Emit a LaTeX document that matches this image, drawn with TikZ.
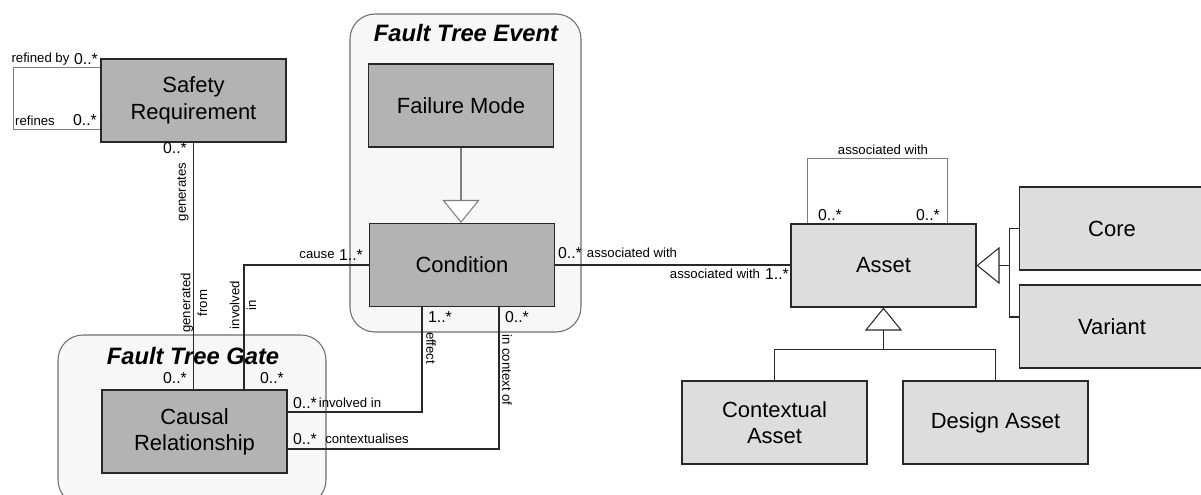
\documentclass[tikz,border=0pt]{standalone}
\usepackage{fontspec}
\setmainfont{Liberation Sans}
\usetikzlibrary{arrows.meta,calc}

\definecolor{boxdark}{RGB}{179,179,179}
\definecolor{boxlight}{RGB}{221,221,221}
\definecolor{grpfill}{RGB}{247,247,247}
\definecolor{grpline}{RGB}{110,110,110}
\definecolor{edgecol}{RGB}{40,40,40}
\definecolor{loopcol}{RGB}{125,125,125}

\tikzset{
	cls/.style={draw=edgecol, fill=boxdark, line width=0.6pt, minimum width=3.7cm, minimum height=1.66cm, inner sep=0pt, align=center, font=\fontsize{12.5}{15}\selectfont},
	lcls/.style={cls, fill=boxlight},
	group/.style={draw=grpline, fill=grpfill, line width=0.6pt, rounded corners=0.5cm},
	grptitle/.style={inner sep=0pt, font=\fontsize{13.5}{16}\selectfont\bfseries\itshape},
	link/.style={draw=edgecol, line width=0.6pt},
	selfloop/.style={draw=loopcol, line width=0.6pt},
	gen/.style={-{Triangle[length=4.6mm, width=7.4mm, fill=white]}},
	mult/.style={inner sep=0pt, font=\fontsize{9}{10}\selectfont},
	role/.style={inner sep=0pt, align=center, font=\fontsize{7.5}{9.5}\selectfont}
}

\begin{document}
\begin{tikzpicture}[x=0.02cm, y=-0.02cm]
	\useasboundingbox (0,0) rectangle (1201,494);
	%%%%% GROUPS %%%%%
	\draw[group] (350,14) rectangle (581,332);
	\draw[group] (58,335) rectangle (326,505);
	\node[grptitle] (fteTitle) at (466,33) {Fault Tree Event};
	\node[grptitle] (ftgTitle) at (193,356) {Fault Tree Gate};
	
	%%%%% CLASSES %%%%%
	\node[cls] (safetyReq) at (193.5,100.5) {Safety\\Requirement};
	\node[cls] (causalRel) at (194.5,431.5) {Causal\\Relationship};
	\node[cls] (failMode) at (461,105.5) {Failure Mode};
	\node[cls] (condition) at (462,265) {Condition};
	\node[lcls] (asset) at (883.5,265.5) {Asset};
	\node[lcls] (core) at (1112,228.5) {Core};
	\node[lcls] (variant) at (1112,326.5) {Variant};
	\node[lcls] (ctxAsset) at (774.5,422.5) {Contextual\\Asset};
	\node[lcls] (designAsset) at (995.5,422.5) {Design Asset};
	
	%%%%% ASSOCIATIONS %%%%%
	\draw[selfloop] ($(safetyReq.north west)+(0,9)$) -- ++(-87,0) |- ($(safetyReq.south west)+(0,-13)$);
	\draw[link] (safetyReq.south) -- (safetyReq.south |- causalRel.north);
	\draw[link] ($(causalRel.north)+(49.5,0)$) |- (condition.west);
	\draw[link] ($(condition.south)+(-40,0)$) |- ($(causalRel.east)+(0,-19.5)$);
	\draw[link] ($(condition.south)+(37,0)$) |- ($(causalRel.east)+(0,17.5)$);
	\draw[link] (condition.east) -- (condition.east -| asset.west);
	\draw[selfloop] ($(asset.north west)+(17,0)$) -- ++(0,-65) -| ($(asset.north east)+(-29,0)$);
	
	%%%%% GENERALISATIONS %%%%%
	\draw[link, draw=loopcol, gen] (failMode.south) -- (failMode.south |- condition.north);
	\coordinate (jRight) at ($(asset.east)+(33,0)$);
	\draw[link] (core.west) -| (jRight);
	\draw[link] ($(variant.west)+(0,-9.5)$) -| (jRight);
	\draw[link, gen] (jRight) -- (asset.east);
	\coordinate (jBelow) at ($(asset.south)+(0,42)$);
	\draw[link] (ctxAsset.north) |- (jBelow);
	\draw[link] (designAsset.north) |- (jBelow);
	\draw[link, gen] (jBelow) -- (asset.south);
	
	%%%%% ROLES AND MULTIPLICITIES %%%%%
	\node[role] (refinedBy) at (40.5,59) {refined by};
	\node[mult] (refinedByM) at (86,59) {0..*};
	\node[role] (refines) at (35,120.5) {refines};
	\node[mult] (refinesM) at (85,120) {0..*};
	\node[mult] (generatesM) at (175,148) {0..*};
	\node[role, rotate=90] (generates) at (183,192) {generates};
	\node[role, rotate=90] (generatedFrom) at (194,303) {generated\\from};
	\node[role, rotate=90] (involvedIn) at (243,305) {involved\\in};
	\node[mult] (generatedFromM) at (175,378) {0..*};
	\node[mult] (involvedInM) at (272,378) {0..*};
	\node[role] (cause) at (317,255) {cause};
	\node[mult] (causeM) at (351,255) {1..*};
	\node[mult] (effectM) at (440,317) {1..*};
	\node[role, rotate=-90] (effect) at (431,348) {effect};
	\node[mult] (contextM) at (517,317) {0..*};
	\node[role, rotate=-90] (inContextOf) at (507,370) {in context of};
	\node[mult] (involvedInM2) at (305,403) {0..*};
	\node[role] (involvedIn2) at (350,403) {involved in};
	\node[mult] (contextualisesM) at (305,439) {0..*};
	\node[role] (contextualises) at (367,439) {contextualises};
	\node[mult] (condAssocM) at (570,253) {0..*};
	\node[role] (condAssoc) at (632,253) {associated with};
	\node[role] (assetAssoc) at (715,274) {associated with};
	\node[mult] (assetAssocM) at (777,274) {1..*};
	\node[role] (selfAssoc) at (883,150) {associated with};
	\node[mult] (selfAssocM1) at (830,215) {0..*};
	\node[mult] (selfAssocM2) at (928,215) {0..*};
\end{tikzpicture}
\end{document}
